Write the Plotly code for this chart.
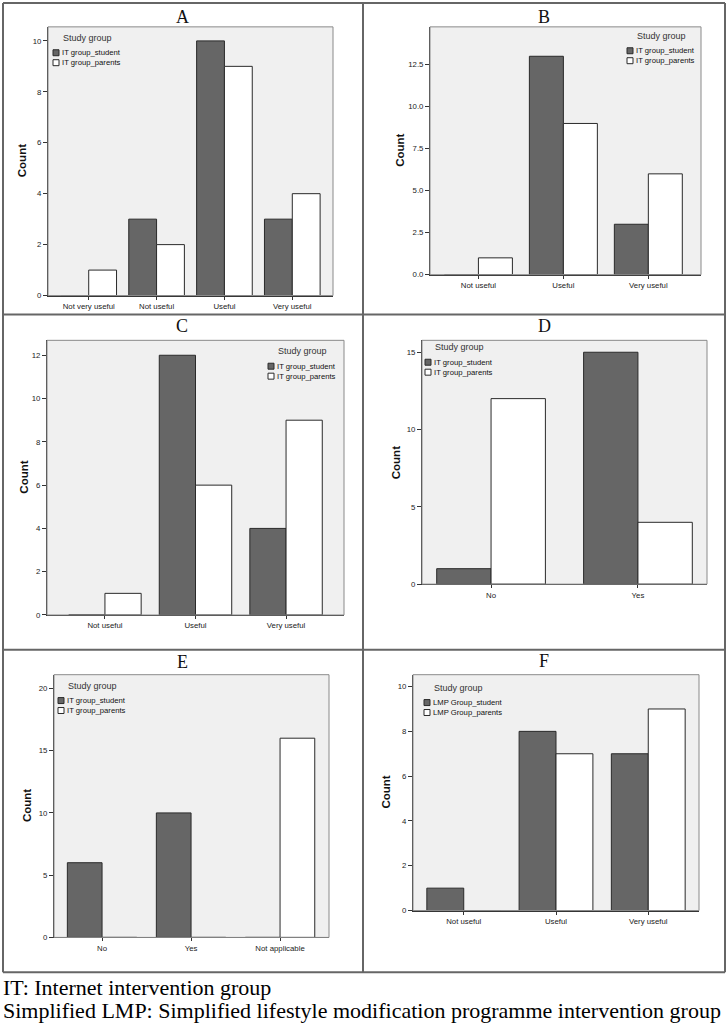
import plotly.graph_objects as go

W, H = 728, 1027

# ---------------- data ----------------
cats_A = ["Not very useful", "Not useful", "Useful", "Very useful"]
student_A = [0, 3, 10, 3]
parents_A = [1, 2, 9, 4]

cats_B = ["Not useful", "Useful", "Very useful"]
student_B = [0, 13, 3]
parents_B = [1, 9, 6]

cats_C = ["Not useful", "Useful", "Very useful"]
student_C = [0, 12, 4]
parents_C = [1, 6, 9]

cats_D = ["No", "Yes"]
student_D = [1, 15]
parents_D = [12, 4]

cats_E = ["No", "Yes", "Not applicable"]
student_E = [6, 10, 0]
parents_E = [0, 0, 16]

cats_F = ["Not useful", "Useful", "Very useful"]
student_F = [1, 8, 7]
parents_F = [0, 7, 9]

names_IT = ["IT group_student", "IT group_parents"]
names_LMP = ["LMP Group_student", "LMP Group_parents"]
panel_labels = ["A", "B", "C", "D", "E", "F"]
footer_lines = ["IT: Internet intervention group",
                "Simplified LMP: Simplified lifestyle modification programme intervention group"]

# ---------------- layout specs (pixels) ----------------
specs = [
    dict(cats=cats_A, s=student_A, p=parents_A, names=names_IT, box=(48, 333, 27, 297),
         xr=[-0.6, 3.6], yr=[0, 10.55], tv=[0, 2, 4, 6, 8, 10], tt=None, w=0.41,
         leg=(53, 38), title_xy=(182, 17), count_x=22),
    dict(cats=cats_B, s=student_B, p=parents_B, names=names_IT, box=(430, 701, 27, 276),
         xr=[-0.57, 2.62], yr=[0, 14.75], tv=[0, 2.5, 5, 7.5, 10, 12.5],
         tt=["0.0", "2.5", "5.0", "7.5", "10.0", "12.5"], w=0.40,
         leg=(627, 36), title_xy=(544, 17), count_x=400),
    dict(cats=cats_C, s=student_C, p=parents_C, names=names_IT, box=(47, 344, 342, 618),
         xr=[-0.64, 2.64], yr=[0, 12.69], tv=[0, 2, 4, 6, 8, 10, 12], tt=None, w=0.40,
         leg=(268, 353), title_xy=(182, 328), count_x=24),
    dict(cats=cats_D, s=student_D, p=parents_D, names=names_IT, box=(422, 707, 342, 587),
         xr=[-0.47, 1.47], yr=[0, 15.77], tv=[0, 5, 10, 15], tt=None, w=0.37,
         leg=(425, 349), title_xy=(544, 328), count_x=396),
    dict(cats=cats_E, s=student_E, p=parents_E, names=names_IT, box=(54, 329, 678, 942),
         xr=[-0.54, 2.55], yr=[0, 21.1], tv=[0, 5, 10, 15, 20], tt=None, w=0.39,
         leg=(58, 689), title_xy=(182, 665), count_x=27),
    dict(cats=cats_F, s=student_F, p=parents_F, names=names_LMP, box=(413, 699, 678, 915),
         xr=[-0.55, 2.55], yr=[0, 10.53], tv=[0, 2, 4, 6, 8, 10], tt=None, w=0.40,
         leg=(424, 691), title_xy=(544, 664), count_x=386),
]

DARK = "#666666"
OUT = "#2a2a2a"
PLOTBG = "#f0f0f0"
FONT = "Liberation Sans, Arial, sans-serif"
SERIF = "Liberation Serif, Times New Roman, serif"


def px_x(x):
    return x / W


def px_y(y):
    return 1 - y / H


fig = go.Figure()
layout = dict(
    width=W, height=H, margin=dict(l=0, r=0, t=0, b=0),
    paper_bgcolor="white", plot_bgcolor=PLOTBG, barmode="overlay",
    showlegend=False, font=dict(family=FONT, size=8, color="#222"),
)
shapes = []
annotations = []

for i, sp in enumerate(specs):
    n = i + 1
    xa = "x" if n == 1 else f"x{n}"
    ya = "y" if n == 1 else f"y{n}"
    xk = "xaxis" if n == 1 else f"xaxis{n}"
    yk = "yaxis" if n == 1 else f"yaxis{n}"
    x0, x1, y0, y1 = sp["box"]
    idx = list(range(len(sp["cats"])))
    w = sp["w"]
    fig.add_trace(go.Bar(x=idx, y=sp["s"], name=sp["names"][0], width=w, offset=-w,
                         marker=dict(color=DARK, line=dict(color=OUT, width=1)),
                         xaxis=xa, yaxis=ya))
    fig.add_trace(go.Bar(x=idx, y=sp["p"], name=sp["names"][1], width=w, offset=0,
                         marker=dict(color="white", line=dict(color=OUT, width=1)),
                         xaxis=xa, yaxis=ya))
    layout[xk] = dict(domain=[px_x(x0), px_x(x1)], anchor=ya, range=sp["xr"],
                      tickmode="array", tickvals=idx, ticktext=sp["cats"],
                      ticks="outside", ticklen=3, tickcolor="#333",
                      showline=True, linecolor="#333", linewidth=1,
                      showgrid=False, zeroline=False, fixedrange=True,
                      tickfont=dict(family=FONT, size=7.8, color="#222"))
    layout[yk] = dict(domain=[px_y(y1), px_y(y0)], anchor=xa, range=sp["yr"],
                      tickmode="array", tickvals=sp["tv"],
                      ticktext=sp["tt"] if sp["tt"] else [str(v) for v in sp["tv"]],
                      ticks="outside", ticklen=4, tickcolor="#333",
                      showline=True, linecolor="#333", linewidth=1,
                      showgrid=False, zeroline=False, fixedrange=True,
                      tickfont=dict(family=FONT, size=7.8, color="#222"))
    shapes.append(dict(type="rect", xref=f"{xa} domain", yref=f"{ya} domain",
                       x0=0, x1=1, y0=0, y1=1, line=dict(color="#8a8a8a", width=1),
                       fillcolor="rgba(0,0,0,0)", layer="above"))
    tx, ty = sp["title_xy"]
    annotations.append(dict(text=panel_labels[i], x=px_x(tx), y=px_y(ty), xref="paper",
                            yref="paper", showarrow=False, xanchor="center", yanchor="middle",
                            font=dict(family=SERIF, size=18, color="#111")))
    annotations.append(dict(text="<b>Count</b>", x=px_x(sp["count_x"]), y=px_y((y0 + y1) / 2),
                            xref="paper", yref="paper", showarrow=False, textangle=-90,
                            xanchor="center", yanchor="middle",
                            font=dict(family=FONT, size=11.5, color="#111")))
    lx, ly = sp["leg"]
    annotations.append(dict(text="Study group", x=px_x(lx + 8), y=px_y(ly), xref="paper",
                            yref="paper", showarrow=False, xanchor="left", yanchor="middle",
                            font=dict(family=FONT, size=9, color="#333")))
    for k, (fc, nm) in enumerate([(DARK, sp["names"][0]), ("white", sp["names"][1])]):
        iy = ly + 15 + k * 10
        shapes.append(dict(type="rect", xref="paper", yref="paper",
                           x0=px_x(lx), x1=px_x(lx + 6), y0=px_y(iy - 3), y1=px_y(iy + 3),
                           fillcolor=fc, line=dict(color=OUT, width=1), layer="above"))
        annotations.append(dict(text=nm, x=px_x(lx + 7), y=px_y(iy), xref="paper",
                                yref="paper", showarrow=False, xanchor="left",
                                yanchor="middle",
                                font=dict(family=FONT, size=7.7, color="#111")))

# cell grid
GRID = "#666666"
for (a, b, c, d) in [(3, 725, 3, 3), (3, 725, 977, 977), (3, 3, 3, 977), (725, 725, 3, 977),
                     (363, 363, 3, 977), (3, 725, 316, 316), (3, 725, 653, 653)]:
    shapes.append(dict(type="line", xref="paper", yref="paper",
                       x0=px_x(a), x1=px_x(b), y0=px_y(c), y1=px_y(d),
                       line=dict(color=GRID, width=2)))

# footer
for j, line in enumerate(footer_lines):
    annotations.append(dict(text=line, x=px_x(1), y=px_y(992 + j * 23), xref="paper",
                            yref="paper", showarrow=False, xanchor="left", yanchor="middle",
                            font=dict(family=SERIF, size=22, color="#000")))

layout["shapes"] = shapes
layout["annotations"] = annotations
fig.update_layout(**layout)
fig.write_html("out.html", config={"displayModeBar": False},
               post_script="document.body.style.margin='0';document.body.style.overflow='hidden';")
